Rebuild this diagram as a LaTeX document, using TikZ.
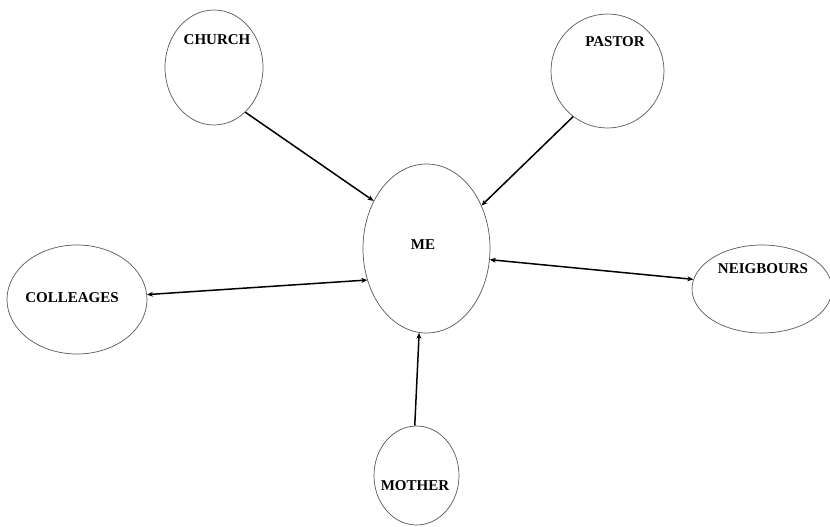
\documentclass[tikz,border=0pt]{standalone}
\usepackage{fontspec}
\setmainfont{Liberation Serif}
\usetikzlibrary{shapes.geometric,arrows.meta}
\begin{document}
\begin{tikzpicture}[x=1pt,y=-1pt,
  bubble/.style={draw=black!65,line width=0.7pt,ellipse,inner sep=0pt},
  lbl/.style={font=\fontsize{15}{18}\selectfont\bfseries,inner sep=0pt},
  link/.style={line width=1.5pt,-{Stealth[length=6pt,width=5pt]}},
  biLink/.style={line width=1.5pt,{Stealth[length=6pt,width=5pt]}-{Stealth[length=6pt,width=5pt]}}]
\useasboundingbox (0,0) rectangle (830,527);
\fill[white] (0,0) rectangle (830,527);

% bubbles
\node[bubble,minimum width=98pt,minimum height=115pt]  (church)    at (214,67.5) {};
\node[bubble,minimum width=113pt,minimum height=114pt] (pastor)    at (607.5,71) {};
\node[bubble,minimum width=127pt,minimum height=169pt] (me)        at (426.5,248.5) {};
\node[bubble,minimum width=140pt,minimum height=109pt] (colleages) at (77,299.5) {};
\node[bubble,minimum width=140pt,minimum height=88pt]  (neigbours) at (762,289) {};
\node[bubble,minimum width=85pt,minimum height=99pt]   (mother)    at (416.5,475.5) {};

% labels
\node[lbl] (churchT)    at (217,40)  {CHURCH};
\node[lbl] (pastorT)    at (615,42)  {PASTOR};
\node[lbl] (meT)        at (423,245) {ME};
\node[lbl] (colleagesT) at (72,298)  {COLLEAGES};
\node[lbl] (neigboursT) at (763,269) {NEIGBOURS};
\node[lbl] (motherT)    at (415,486) {MOTHER};

% connectors
\draw[link]   (church.-55.7) -- (me.138.5);
\draw[link]   (pastor.-127.3) -- (me.38.2);
\draw[biLink] (colleages.4.5) -- (me.208);
\draw[biLink] (me.-10) -- (neigbours.172.6);
\draw[link]   (mother.92) -- (me.-95);
\end{tikzpicture}
\end{document}
